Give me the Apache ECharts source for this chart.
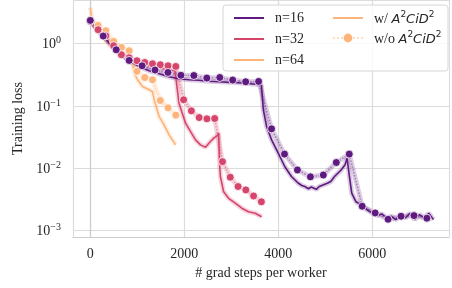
<!DOCTYPE html>
<html lang="en">
<head>
    <meta charset="UTF-8">
    <title>Training loss</title>
    <script src="https://cdn.jsdelivr.net/npm/echarts@6/dist/echarts.min.js"></script>
    <style>
        html, body {margin: 0; padding: 0; background: #fff;}
    </style>
</head>
<body>
<div id="lossChart" style="width: 452px;height: 288px;"></div>

<script type="text/javascript">
    // dots (w/o A2CiD2)
    var dotSteps16 = [0, 275, 551, 826, 1102, 1377, 1652, 1928, 2203, 2479, 2754, 3029, 3305, 3580, 3856, 4131, 4406, 4682, 4957, 5233, 5508, 5783, 6059, 6334, 6610, 6885, 7160];
    var dotLoss16 = [2.37, 1.33, 0.80, 0.539, 0.443, 0.378, 0.346, 0.312, 0.309, 0.281, 0.287, 0.261, 0.245, 0.248, 0.043, 0.0169, 0.0094, 0.0073, 0.0078, 0.0124, 0.0169, 0.00246, 0.00192, 0.00152, 0.0017, 0.00174, 0.00158];
    var dotSteps32 = [0, 165, 331, 496, 662, 827, 992, 1158, 1323, 1489, 1654, 1819, 1985, 2150, 2316, 2481, 2646, 2812, 2977, 3143, 3308, 3473, 3639];
    var dotLoss32 = [2.3, 1.68, 1.34, 0.929, 0.666, 0.596, 0.533, 0.500, 0.477, 0.460, 0.443, 0.432, 0.126, 0.0837, 0.0653, 0.0623, 0.063, 0.0128, 0.0072, 0.0051, 0.0045, 0.0036, 0.0029];
    var dotSteps64 = [0, 165, 331, 496, 662, 827, 992, 1158, 1323, 1489, 1654, 1819];
    var dotLoss64 = [2.4, 1.97, 1.62, 1.09, 0.872, 0.772, 0.361, 0.287, 0.264, 0.1226, 0.0936, 0.0714];

    // lines (w/ A2CiD2)
    var lineSteps16 = [0, 100, 196, 300, 408, 619, 830, 1041, 1252, 1464, 1675, 1886, 2097, 2308, 2500, 2731, 2950, 3153, 3400, 3639, 3681, 3751, 3856, 3998, 4139, 4279, 4420, 4500, 4562, 4640, 4701, 4807, 4870, 4912, 5054, 5120, 5195, 5335, 5419, 5462, 5512, 5561, 5652, 5757, 5899, 6000, 6100, 6200, 6300, 6400, 6500, 6600, 6700, 6800, 6900, 7000, 7100, 7200, 7300];
    var lineLoss16 = [2.34, 1.9, 1.56, 1.25, 1.0, 0.717, 0.533, 0.427, 0.368, 0.330, 0.295, 0.274, 0.264, 0.259, 0.25, 0.245, 0.24, 0.236, 0.228, 0.219, 0.0869, 0.0468, 0.0286, 0.0175, 0.0106, 0.0074, 0.0058, 0.0053, 0.0051, 0.0047, 0.0050, 0.0046, 0.0051, 0.0048, 0.0058, 0.0062, 0.0074, 0.0094, 0.0114, 0.0145, 0.0074, 0.0040, 0.0029, 0.0026, 0.00214, 0.0019, 0.00175, 0.00185, 0.0016, 0.0017, 0.0015, 0.00175, 0.0016, 0.0019, 0.0015, 0.0018, 0.0016, 0.0019, 0.0015];
    var lineSteps32 = [0, 196, 408, 619, 830, 1041, 1252, 1464, 1675, 1800, 1829, 1886, 1956, 2027, 2133, 2239, 2344, 2450, 2555, 2625, 2695, 2731, 2745, 2767, 2836, 2942, 3083, 3223, 3364, 3506, 3645];
    var lineLoss32 = [2.34, 1.56, 1.04, 0.744, 0.596, 0.495, 0.443, 0.411, 0.382, 0.368, 0.25, 0.111, 0.0769, 0.0531, 0.0389, 0.0286, 0.0238, 0.0218, 0.0269, 0.0305, 0.0332, 0.0367, 0.0137, 0.0074, 0.0042, 0.0033, 0.00275, 0.00229, 0.00201, 0.0019, 0.00167];
    var lineSteps64 = [0, 30, 91, 196, 408, 619, 830, 900, 936, 1005, 1111, 1252, 1322, 1358, 1464, 1569, 1675, 1816];
    var lineLoss64 = [3.8, 2.6, 2.02, 1.50, 0.964, 0.691, 0.553, 0.489, 0.338, 0.264, 0.206, 0.182, 0.171, 0.126, 0.0678, 0.0499, 0.0344, 0.0238];

    var xTicks = [0, 2000, 4000, 6000];
    var colors = {n16: '#5f1a7f', n32: '#d6456c', n64: '#fdb47a'};
    var serif = 'Liberation Serif';

    function pairs(xs, ys) {
        return xs.map(function (x, i) { return [x, ys[i]]; });
    }

    function solid(name, color, xs, ys) {
        return {
            name: name, type: 'line', symbol: 'none', z: 3,
            lineStyle: {color: color, width: 1.6},
            itemStyle: {color: color},
            data: pairs(xs, ys)
        };
    }

    function band(color, xs, ys) {
        return {
            name: 'band', type: 'line', symbol: 'none', silent: true, z: 2,
            lineStyle: {color: color, width: 5, opacity: 0.22},
            data: pairs(xs, ys)
        };
    }

    function dots(name, color, xs, ys) {
        return {
            name: name, type: 'line', symbol: 'circle', symbolSize: 8, z: 4,
            lineStyle: {color: color, width: 1.5, type: 'dotted', opacity: 0.45},
            itemStyle: {color: color, borderColor: '#fff', borderWidth: 0.8},
            data: pairs(xs, ys)
        };
    }

    var dom = document.getElementById('lossChart');
    var myChart = echarts.init(dom);

    var noDot = {opacity: 0};

    var option = {
        animation: false,
        grid: {left: 73, right: 0, top: 0, bottom: 51},
        xAxis: {
            type: 'value',
            min: -368,
            max: 7630,
            name: '# grad steps per worker',
            nameLocation: 'middle',
            nameGap: 28,
            nameTextStyle: {fontFamily: serif, fontSize: 14, color: '#262626'},
            axisLine: {lineStyle: {color: '#cccccc', width: 1.2}},
            axisTick: {show: false},
            axisLabel: {
                fontFamily: serif, fontSize: 14, color: '#262626', margin: 10,
                formatter: function (v) { return xTicks.indexOf(v) >= 0 ? String(v) : ''; }
            },
            splitLine: {lineStyle: {color: '#dcdcdc', width: 1.2}}
        },
        yAxis: {
            type: 'log',
            min: 0.000789,
            max: 5.04,
            name: 'Training loss',
            nameLocation: 'middle',
            nameGap: 46,
            nameTextStyle: {fontFamily: serif, fontSize: 14, color: '#262626'},
            axisLine: {show: true, lineStyle: {color: '#cccccc', width: 1.2}},
            axisTick: {show: false},
            axisLabel: {
                margin: 12,
                formatter: function (v) {
                    var l = Math.log10(v);
                    var r = Math.round(l);
                    if (Math.abs(l - r) > 1e-6) return '';
                    return '{b|10}{s|' + (r < 0 ? '\u2212' + (-r) : r) + '}';
                },
                rich: {
                    b: {fontFamily: serif, fontSize: 14, color: '#262626', lineHeight: 16, verticalAlign: 'bottom'},
                    s: {fontFamily: serif, fontSize: 10, color: '#262626', lineHeight: 10, verticalAlign: 'top'}
                }
            },
            splitLine: {lineStyle: {color: '#dcdcdc', width: 1.2}}
        },
        graphic: [{
            type: 'rect', z: 5,
            shape: {x: 223, y: 5, width: 225, height: 66, r: 3},
            style: {fill: 'rgba(255,255,255,0.82)', stroke: '#d6d6d6', lineWidth: 1}
        }],
        legend: [{
            left: 228, top: 5, orient: 'vertical', z: 6,
            itemWidth: 30, itemHeight: 10, itemGap: 5,
            data: [
                {name: 'n=16', itemStyle: noDot},
                {name: 'n=32', itemStyle: noDot},
                {name: 'n=64', itemStyle: noDot}
            ],
            textStyle: {fontFamily: serif, fontSize: 14, color: '#262626', lineHeight: 16, padding: [0, 0, 0, 6]}
        }, {
            left: 327, top: 5, orient: 'vertical', z: 6,
            itemWidth: 30, itemHeight: 11, itemGap: 4,
            data: [
                {name: 'w/', itemStyle: noDot},
                {name: 'w/o', itemStyle: {borderWidth: 0}}
            ],
            formatter: function (name) {
                return '{r|' + name + ' }{i|A}{s|2}{i|CiD}{s|2}';
            },
            textStyle: {
                padding: [0, 0, 0, 6],
                rich: {
                    r: {fontFamily: serif, fontSize: 14, color: '#262626', lineHeight: 16, verticalAlign: 'bottom'},
                    i: {fontFamily: 'DejaVu Sans', fontStyle: 'italic', fontSize: 13, color: '#262626', lineHeight: 16, verticalAlign: 'bottom'},
                    s: {fontFamily: 'DejaVu Sans', fontSize: 9, color: '#262626', lineHeight: 10, verticalAlign: 'top'}
                }
            }
        }],
        series: [
            band(colors.n64, lineSteps64, lineLoss64),
            band(colors.n32, lineSteps32, lineLoss32),
            band(colors.n16, lineSteps16, lineLoss16),
            band(colors.n64, dotSteps64, dotLoss64),
            band(colors.n32, dotSteps32, dotLoss32),
            band(colors.n16, dotSteps16, dotLoss16),
            solid('n=64', colors.n64, lineSteps64, lineLoss64),
            solid('n=32', colors.n32, lineSteps32, lineLoss32),
            solid('n=16', colors.n16, lineSteps16, lineLoss16),
            dots('n=64 w/o', colors.n64, dotSteps64, dotLoss64),
            dots('n=32 w/o', colors.n32, dotSteps32, dotLoss32),
            dots('n=16 w/o', colors.n16, dotSteps16, dotLoss16),
            solid('w/', colors.n64, [], []),
            dots('w/o', colors.n64, [], [])
        ]
    };

    myChart.setOption(option);
</script>
</body>
</html>
